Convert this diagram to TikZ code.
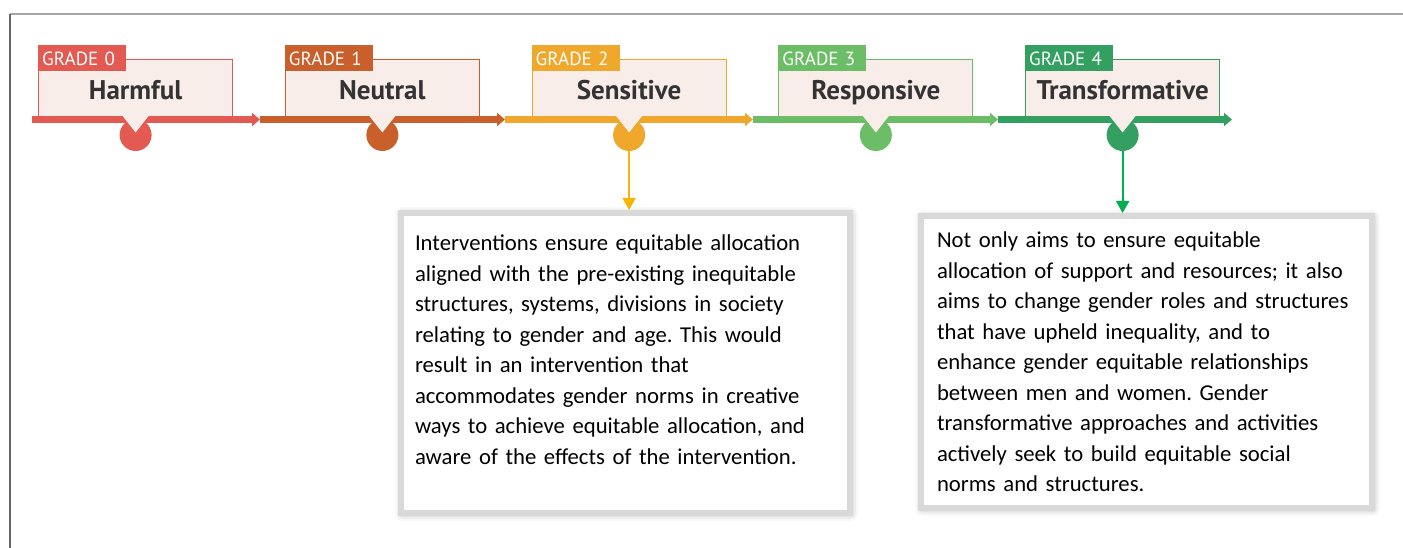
\documentclass[tikz,border=0pt]{standalone}
\usepackage{fontspec}
\setmainfont{Carlito}
\newfontfamily\gradefont{PT Sans}
\usetikzlibrary{arrows.meta, positioning, shadows.blur}
\frenchspacing

\definecolor{gradezero}{HTML}{E25A52}
\definecolor{gradeone}{HTML}{C9602B}
\definecolor{gradetwo}{HTML}{EFA82C}
\definecolor{gradethree}{HTML}{6BBD66}
\definecolor{gradefour}{HTML}{33A061}
\definecolor{boxpink}{HTML}{F9EDEA}
\definecolor{linkyellow}{HTML}{F7B500}
\definecolor{linkgreen}{HTML}{00B050}

\tikzset{
    gradebox/.style = {draw = #1, line width = 1.2pt, fill = boxpink, anchor = south west,
        minimum width = 194pt, minimum height = 59pt, inner sep = 0pt,
        text height = 25pt, text depth = 5pt,
        font = \gradefont\bfseries\fontsize{27}{27}\selectfont, text = black!80},
    gradetab/.style = {fill = #1, anchor = north west, text width = 80pt, align = left,
        inner xsep = 4pt, inner ysep = 0pt, minimum height = 26pt,
        text height = 17pt, text depth = 3pt,
        font = \gradefont\fontsize{19}{19}\selectfont, text = white},
    gradedot/.style = {circle, fill = #1, minimum size = 32pt, inner sep = 0pt},
    descbox/.style = {draw = gray!30, line width = 6pt, fill = white, anchor = north west,
        text width = #1, align = left, inner ysep = 0pt,
        font = \fontsize{22.7}{30.5}\selectfont,
        blur shadow = {shadow xshift = 1pt, shadow yshift = -1pt, shadow blur radius = 7pt,
            shadow opacity = 35}},
    link/.style = {-{Triangle[length = 12pt, width = 13pt]}, line width = 2pt}
}

\begin{document}
\begin{tikzpicture}[x = 1pt, y = -1pt]
    \useasboundingbox (0,0) rectangle (1403,548);
    \draw[gray!70, line width = 2pt] (10,14) -- (1403,14);
    \draw[black!60, line width = 1.5pt] (10,14) -- (10,548);

    \coordinate (b0) at (32,119.5);
    \foreach \i/\grade/\col/\bend in {0/Harmful/gradezero/260, 1/Neutral/gradeone/505,
            2/Sensitive/gradetwo/753, 3/Responsive/gradethree/998, 4/Transformative/gradefour/1232} {
        \pgfmathtruncatemacro\j{\i + 1}
        \pgfmathsetmacro\xa{38 + 246.75*\i}
        \node[gradebox = \col] (box\i) at (\xa,119.5) {\grade};
        \node[gradetab = \col] (tab\i) at (\xa,45) {GRADE \i};
        \coordinate (b\j) at (\bend,119.5);
        \draw[\col, line width = 6.5pt, -{Triangle[length = 8pt, width = 13pt]}] (b\i) -- (b\j);
        \node[gradedot = \col] (dot\i) at (box\i.south |- 0,135) {};
        \fill[boxpink] ([xshift = -13pt, yshift = 3.5pt]box\i.south) -- ([xshift = 13pt, yshift = 3.5pt]box\i.south)
            -- ([yshift = -13pt]box\i.south) -- cycle;
    }

    \node[descbox = 421pt, inner xsep = 14pt, minimum height = 300pt] (desc2) at (398,210) {%
        Interventions ensure equitable allocation\\
        aligned with the pre-existing inequitable\\
        structures, systems, divisions in society\\
        relating to gender and age. This would\\
        result in an intervention that\\
        accommodates gender norms in creative\\
        ways to achieve equitable allocation, and\\
        aware of the effects of the intervention.\\[-4pt]\mbox{}};
    \node[descbox = 419pt, inner xsep = 16pt, minimum height = 292pt] (desc4) at (918,213) {%
        Not only aims to ensure equitable\\
        allocation of support and resources; it also\\
        aims to change gender roles and structures\\
        that have upheld inequality, and to\\
        enhance gender equitable relationships\\
        between men and women. Gender\\
        transformative approaches and activities\\
        actively seek to build equitable social\\
        norms and structures.};

    \draw[link, linkyellow] (dot2) -- (desc2.north -| dot2);
    \draw[link, linkgreen] (dot4) -- (desc4.north -| dot4);
\end{tikzpicture}
\end{document}
